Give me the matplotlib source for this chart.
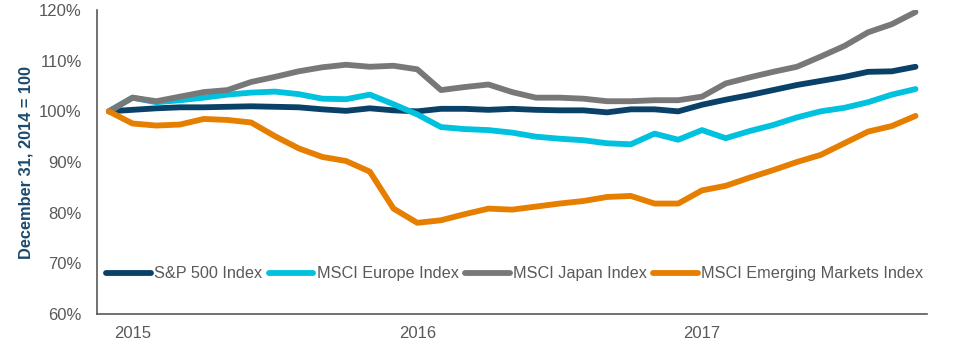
import numpy as np
import matplotlib.pyplot as plt

plt.rcParams['font.family'] = ['Liberation Sans', 'DejaVu Sans']

# month-end index values, Dec 2014 = 100 (Dec 2014 .. Oct 2017)
sp500 = [100.0, 100.3, 100.6, 100.8, 100.8, 100.9, 101.0, 100.9, 100.8, 100.4,
         100.1, 100.6, 100.2, 100.0, 100.5, 100.5, 100.3, 100.5, 100.3, 100.2,
         100.2, 99.8, 100.4, 100.4, 100.0, 101.3, 102.3, 103.2, 104.2, 105.2,
         106.0, 106.8, 107.8, 107.9, 108.8]
europe = [100.0, 102.7, 101.8, 102.2, 102.7, 103.3, 103.7, 103.9, 103.4, 102.5,
          102.4, 103.3, 101.4, 99.4, 96.9, 96.5, 96.3, 95.8, 95.0, 94.6,
          94.3, 93.7, 93.5, 95.6, 94.4, 96.3, 94.7, 96.1, 97.3, 98.8,
          100.0, 100.7, 101.8, 103.3, 104.4]
japan = [100.0, 102.7, 102.0, 102.9, 103.8, 104.2, 105.8, 106.8, 107.9, 108.7,
         109.2, 108.8, 109.0, 108.3, 104.2, 104.8, 105.3, 103.8, 102.7, 102.7,
         102.5, 102.0, 102.0, 102.2, 102.2, 102.9, 105.5, 106.7, 107.8, 108.8,
         110.8, 112.9, 115.6, 117.2, 119.6]
emerging = [100.0, 97.6, 97.2, 97.4, 98.5, 98.3, 97.8, 95.1, 92.7, 91.0,
            90.2, 88.1, 80.8, 78.0, 78.5, 79.7, 80.8, 80.6, 81.2, 81.8,
            82.3, 83.1, 83.3, 81.8, 81.8, 84.4, 85.3, 86.9, 88.4, 90.0,
            91.4, 93.7, 96.0, 97.1, 99.1]

series_names = ['S&P 500 Index', 'MSCI Europe Index', 'MSCI Japan Index',
                'MSCI Emerging Markets Index']
series_colors = ['#0A4168', '#00C1DE', '#787878', '#E67E00']

year_labels = ['2015', '2016', '2017']
year_pos = [1, 13, 25]  # January of each year

x = np.arange(len(sp500))

fig = plt.figure(figsize=(9.6, 3.46), dpi=100)
ax = fig.add_axes([0.101, 0.0925, 0.865, 0.8785])

for vals, name, col in zip([sp500, europe, japan, emerging], series_names, series_colors):
    ax.plot(x, vals, color=col, lw=4.2, label=name, solid_capstyle='round',
            solid_joinstyle='round')

ax.set_xlim(-0.5, len(x) - 0.5)
ax.set_ylim(60, 120)
ax.set_yticks(np.arange(60, 121, 10))
ax.set_yticklabels([f'{v}%' for v in range(60, 121, 10)])
ax.set_xticks(year_pos)
ax.set_xticklabels(year_labels)

ax.tick_params(axis='both', length=0, labelsize=12, labelcolor='#595959')
ax.tick_params(axis='y', pad=11)
ax.tick_params(axis='x', pad=9)

for s in ['top', 'right']:
    ax.spines[s].set_visible(False)
for s in ['left', 'bottom']:
    ax.spines[s].set_color('#595959')
    ax.spines[s].set_linewidth(1.2)

ax.set_ylabel('December 31, 2014 = 100', fontsize=11.8, fontweight='bold',
              color='#1B4A6E')
ax.yaxis.set_label_coords(-0.076, 0.5)

leg = ax.legend(loc='center left', bbox_to_anchor=(0.011, 0.132), ncol=4,
                frameon=False, fontsize=11.7, handlelength=2.75,
                handletextpad=0.2, columnspacing=0.4, borderaxespad=0,
                borderpad=0)
for t in leg.get_texts():
    t.set_color('#595959')

fig.savefig('out.png', dpi=100)
